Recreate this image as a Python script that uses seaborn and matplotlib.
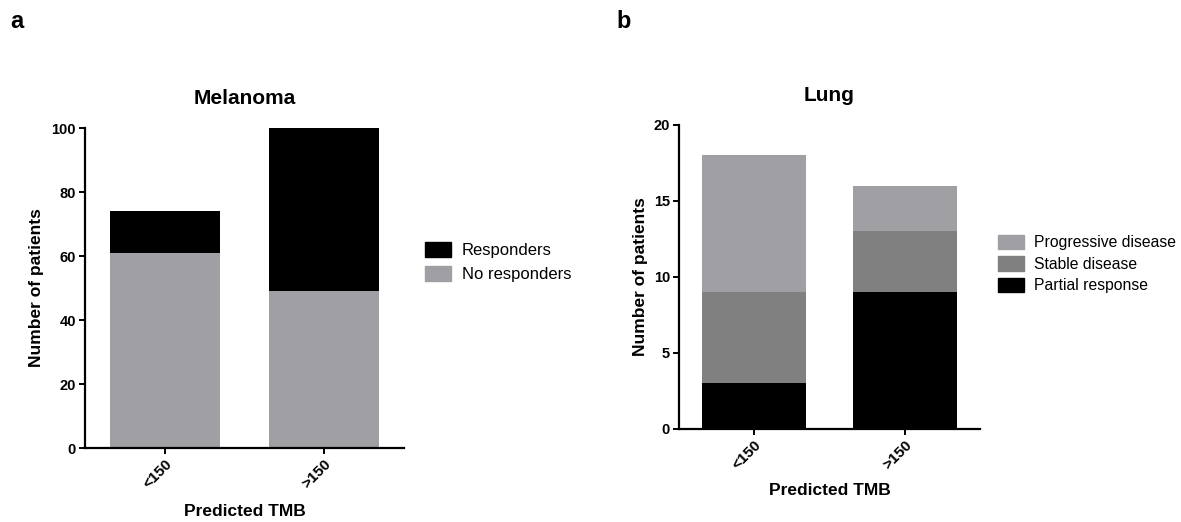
import matplotlib
matplotlib.use("Agg")
import matplotlib.pyplot as plt
from matplotlib.patches import Patch
import numpy as np
import pandas as pd
import seaborn as sns

# Patient counts per predicted TMB group
categories = ["<150", ">150"]

mel_no_responders = [61, 49]
mel_responders = [13, 51]

lung_partial = [3, 9]
lung_stable = [6, 4]
lung_progressive = [9, 3]

LIGHT = "#a0a0a4"
MID = "#808080"
DARK = "#000000"

sns.set_theme(style="ticks")
plt.rcParams["font.family"] = ["Liberation Sans", "DejaVu Sans"]
plt.rcParams["text.color"] = "black"
plt.rcParams["axes.labelcolor"] = "black"
plt.rcParams["xtick.color"] = "black"
plt.rcParams["ytick.color"] = "black"

fig = plt.figure(figsize=(11.81, 5.22), dpi=100)
ax_a = fig.add_axes([85 / 1181, 1 - 448 / 522, 319 / 1181, 320 / 522])
ax_b = fig.add_axes([679 / 1181, 1 - 429 / 522, 301 / 1181, 304 / 522])


def stacked(ax, layers):
    """Draw stacked bars: layers is a list of (values, colour) from bottom to top."""
    tops = np.cumsum([np.asarray(v, dtype=float) for v, _ in layers], axis=0)
    # paint the tallest layer first so lower segments sit on top of it
    for i in range(len(layers) - 1, -1, -1):
        df = pd.DataFrame({"group": categories, "count": tops[i]})
        sns.barplot(data=df, x="group", y="count", color=layers[i][1],
                    width=0.69, saturation=1, ax=ax, linewidth=0)


def style(ax, ymax, yticks):
    ax.set_ylim(0, ymax)
    ax.set_xlim(-0.5, 1.5)
    ax.set_yticks(yticks)
    sns.despine(ax=ax)
    for s in ("left", "bottom"):
        ax.spines[s].set_linewidth(1.6)
        ax.spines[s].set_color("black")
    ax.tick_params(axis="both", length=4.5, width=1.4, color="black",
                   labelsize=10.5, pad=2, labelcolor="black")
    for lab in ax.get_yticklabels():
        lab.set_fontweight("bold")
    ax.set_xticks(range(len(categories)))
    ax.set_xticklabels(categories, rotation=45, ha="right",
                       rotation_mode="anchor", fontweight="bold", fontsize=11)
    ax.set_xlabel("Predicted TMB", fontsize=12.5, fontweight="bold")
    ax.set_ylabel("Number of patients", fontsize=12.5, fontweight="bold")
    ax.xaxis.label.set_va("center")
    ax.yaxis.label.set_va("center")


# Melanoma
stacked(ax_a, [(mel_no_responders, LIGHT), (mel_responders, DARK)])
style(ax_a, 100, [0, 20, 40, 60, 80, 100])
ax_a.xaxis.set_label_coords(0.5, (448 - 512) / 320)
ax_a.yaxis.set_label_coords((37 - 85) / 319, 0.5)
ax_a.set_title("Melanoma", fontsize=15, fontweight="bold", pad=17)
ax_a.legend(handles=[Patch(color=DARK, label="Responders"),
                     Patch(color=LIGHT, label="No responders")],
            loc="center left", bbox_to_anchor=(425 / 1181, 1 - 262 / 522),
            bbox_transform=fig.transFigure, frameon=False, fontsize=12,
            handlelength=1.55, handleheight=1.0, handletextpad=0.65,
            labelspacing=0.45, borderpad=0, borderaxespad=0)

# Lung
stacked(ax_b, [(lung_partial, DARK), (lung_stable, MID), (lung_progressive, LIGHT)])
style(ax_b, 20, [0, 5, 10, 15, 20])
ax_b.xaxis.set_label_coords(0.5, (429 - 490) / 304)
ax_b.yaxis.set_label_coords((640 - 679) / 301, 0.5)
ax_b.set_title("Lung", fontsize=15, fontweight="bold", pad=17)
ax_b.legend(handles=[Patch(color=LIGHT, label="Progressive disease"),
                     Patch(color=MID, label="Stable disease"),
                     Patch(color=DARK, label="Partial response")],
            loc="center left", bbox_to_anchor=(998 / 1181, 1 - 264 / 522),
            bbox_transform=fig.transFigure, frameon=False, fontsize=11.3,
            handlelength=1.65, handleheight=1.05, handletextpad=0.65,
            labelspacing=0.38, borderpad=0, borderaxespad=0)

# Panel letters
fig.text(10 / 1181, 1 - 22 / 522, "a", fontsize=17, fontweight="bold", va="center")
fig.text(616 / 1181, 1 - 22 / 522, "b", fontsize=17, fontweight="bold", va="center")

fig.savefig("out.png", dpi=100, facecolor="white")
